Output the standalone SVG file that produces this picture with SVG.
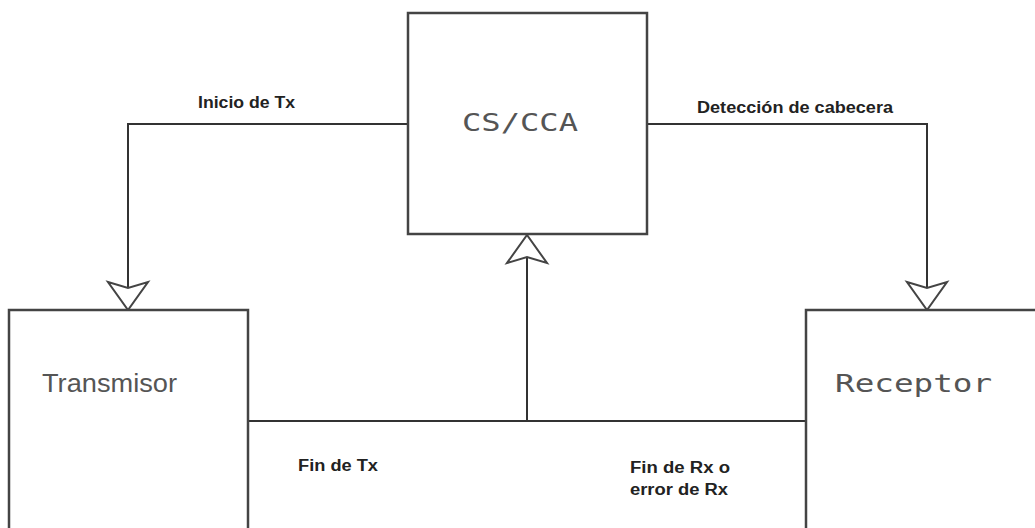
<svg xmlns="http://www.w3.org/2000/svg" width="1035" height="528" viewBox="0 0 1035 528">
<style>
.box{fill:#fff;stroke:#444;stroke-width:2.5}
.wire{fill:none;stroke:#333;stroke-width:2}
.head{fill:#fff;stroke:#444;stroke-width:2;stroke-linejoin:miter}
.big{font-family:"DejaVu Sans Mono",monospace;font-size:24px;fill:#555}
.sans{font-family:"Liberation Sans",Arial,sans-serif;font-size:25px;fill:#555}
.lbl{font-family:"Liberation Sans",Arial,sans-serif;font-size:16px;font-weight:bold;fill:#222}
</style>
<rect width="1035" height="528" fill="#fff"/>
<g id="connectors">
<polyline class="wire" points="408,124 128,124 128,288"/>
<polygon class="head" points="108,282 128,288 148,282 128,310"/>
<polyline class="wire" points="647,124 927,124 927,288"/>
<polygon class="head" points="907,282 927,288 947,282 927,310"/>
<line class="wire" x1="248" y1="421" x2="806" y2="421"/>
<line class="wire" x1="527" y1="421" x2="527" y2="257"/>
<polygon class="head" points="507,263 527,257 547,263 527,235"/>
<text class="lbl" x="198" y="108" textLength="97" lengthAdjust="spacingAndGlyphs">Inicio de Tx</text>
<text class="lbl" x="697" y="113" textLength="196" lengthAdjust="spacingAndGlyphs">Detección de cabecera</text>
<text class="lbl" x="298" y="471" textLength="80" lengthAdjust="spacingAndGlyphs">Fin de Tx</text>
<text class="lbl" x="630" y="473" textLength="100" lengthAdjust="spacingAndGlyphs">Fin de Rx o</text>
<text class="lbl" x="630" y="495" textLength="98" lengthAdjust="spacingAndGlyphs">error de Rx</text>
</g>
<g id="cscca">
<rect class="box" x="408" y="13" width="239" height="221"/>
<text class="big" x="462" y="131" textLength="116" lengthAdjust="spacingAndGlyphs">CS/CCA</text>
</g>
<g id="transmisor">
<rect class="box" x="9" y="310" width="239" height="240"/>
<text class="sans" x="42" y="392" textLength="135" lengthAdjust="spacingAndGlyphs">Transmisor</text>
</g>
<g id="receptor">
<rect class="box" x="806" y="310" width="260" height="240"/>
<text class="big" x="835" y="392" textLength="157" lengthAdjust="spacingAndGlyphs">Receptor</text>
</g>
</svg>
